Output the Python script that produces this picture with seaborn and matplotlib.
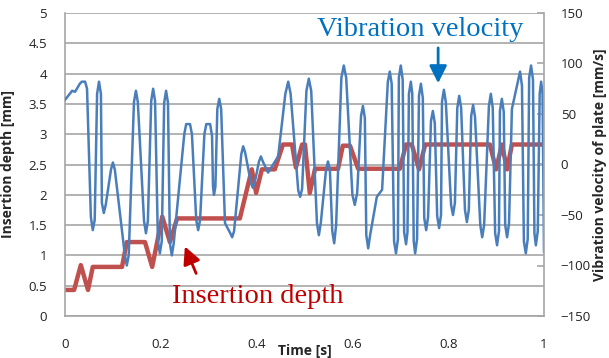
import numpy as np
import pandas as pd
import seaborn as sns
import matplotlib.pyplot as plt

# vibration velocity of plate [mm/s] (right axis) as (time, value)
vel_points = [
    (0.000, 64), (0.015, 73), (0.021, 72), (0.031, 80), (0.035, 82), (0.042, 82),
    (0.046, 75), (0.054, -52), (0.058, -65), (0.062, -55), (0.067, 70), (0.071, 82),
    (0.075, 70), (0.077, -38), (0.081, -48), (0.085, -40), (0.096, -5), (0.100, 2),
    (0.104, -5), (0.125, -90), (0.129, -100), (0.133, -90), (0.144, 62), (0.148, 73),
    (0.152, 62), (0.165, -56), (0.169, -68), (0.173, -56), (0.180, 63), (0.184, 75),
    (0.188, 63), (0.194, -76), (0.198, -88), (0.202, -76), (0.207, 61), (0.211, 73),
    (0.215, 61), (0.219, -78), (0.223, -90), (0.227, -78), (0.249, 30), (0.253, 40),
    (0.261, 40), (0.265, 30), (0.274, -55), (0.278, -65), (0.282, -55), (0.291, 30),
    (0.295, 40), (0.303, 40), (0.307, 28), (0.309, -22), (0.311, -30), (0.314, -22),
    (0.318, 55), (0.322, 65), (0.326, 55), (0.334, -58), (0.345, -68), (0.349, -72),
    (0.353, -66), (0.368, 10), (0.372, 18), (0.376, 12), (0.388, -18), (0.392, -23),
    (0.396, -18), (0.405, 3), (0.409, 8), (0.413, 3), (0.424, -8), (0.445, 8),
    (0.460, 70), (0.466, 82), (0.471, 70), (0.487, -26), (0.491, -32), (0.495, -24),
    (0.504, 73), (0.509, 85), (0.514, 73), (0.526, -58), (0.530, -70), (0.534, -58),
    (0.545, -5), (0.549, 3), (0.553, -5), (0.558, -66), (0.562, -78), (0.566, -60),
    (0.577, 86), (0.582, 98), (0.587, 86), (0.600, -30), (0.605, -40), (0.610, -28),
    (0.618, 48), (0.622, 58), (0.626, 46), (0.629, -70), (0.633, -83), (0.637, -70),
    (0.651, -32), (0.662, -25), (0.674, 82), (0.678, 92), (0.682, 80), (0.687, -76),
    (0.691, -88), (0.695, -74), (0.697, 86), (0.701, 98), (0.705, 84), (0.708, -67),
    (0.712, -79), (0.715, -67), (0.718, 70), (0.722, 82), (0.725, 70), (0.728, -76),
    (0.731, -88), (0.735, -74), (0.739, 68), (0.743, 80), (0.747, 66), (0.750, -53),
    (0.754, -65), (0.758, -52), (0.764, 43), (0.768, 53), (0.772, 41), (0.777, -51),
    (0.781, -63), (0.785, -50), (0.787, 62), (0.791, 74), (0.795, 62), (0.806, -40),
    (0.810, -50), (0.814, -38), (0.819, 56), (0.823, 68), (0.827, 56), (0.835, -45),
    (0.839, -57), (0.843, -45), (0.848, 48), (0.852, 59), (0.856, 47), (0.867, -60),
    (0.871, -72), (0.875, -60), (0.885, 58), (0.889, 70), (0.893, 56), (0.898, -68),
    (0.902, -80), (0.906, -66), (0.908, 53), (0.912, 65), (0.916, 52), (0.919, -60),
    (0.923, -72), (0.927, -58), (0.933, 55), (0.950, 92), (0.954, 78), (0.958, -76),
    (0.962, -88), (0.966, -74), (0.969, 86), (0.973, 98), (0.977, 84), (0.980, -68),
    (0.983, -80), (0.987, -66), (0.991, 70), (0.994, 82), (0.997, 70), (1.000, -87),
]
vel_time = [p[0] for p in vel_points]
vel_value = [p[1] for p in vel_points]

# insertion depth [mm] (left axis)
depth_time = [0.000, 0.019, 0.033, 0.048, 0.058, 0.119, 0.129, 0.167, 0.182, 0.203,
              0.219, 0.234, 0.365, 0.390, 0.399, 0.411, 0.438, 0.455, 0.474, 0.482,
              0.495, 0.501, 0.511, 0.522, 0.570, 0.580, 0.595, 0.612, 0.699, 0.712,
              0.724, 0.739, 0.752, 0.887, 0.900, 0.912, 0.923, 0.933, 1.000]
depth_value = [0.43, 0.43, 0.84, 0.43, 0.81, 0.81, 1.22, 1.22, 0.81, 1.64,
               1.22, 1.61, 1.61, 2.42, 2.03, 2.42, 2.42, 2.83, 2.83, 2.45,
               2.83, 2.83, 2.03, 2.43, 2.43, 2.81, 2.81, 2.43, 2.43, 2.83,
               2.83, 2.42, 2.83, 2.83, 2.42, 2.83, 2.42, 2.83, 2.83]

x_ticks = [0, 0.2, 0.4, 0.6, 0.8, 1]
depth_ticks = [0, 0.5, 1, 1.5, 2, 2.5, 3, 3.5, 4, 4.5, 5]
vel_ticks = [-150, -100, -50, 0, 50, 100, 150]

sns.set_style("white")
plt.rcParams['font.family'] = ['Open Sans', 'DejaVu Sans']

grid_c = '#A6A6A6'
fig = plt.figure(figsize=(6.09, 3.58), dpi=100)
ax = fig.add_axes([65 / 609, 42 / 358, 479 / 609, 303 / 358])

sns.lineplot(x=depth_time, y=depth_value, ax=ax, color='#C0504D', lw=3.2,
             sort=False, estimator=None, solid_joinstyle='round')
ax.set_xlim(0, 1)
ax.set_ylim(0, 5)
ax.set_yticks(depth_ticks)
ax.set_yticklabels([f'{v:g}' for v in depth_ticks])
ax.set_xticks(x_ticks)
ax.set_xticklabels([f'{v:g}' for v in x_ticks])
ax.grid(axis='y', color=grid_c, lw=1.2)
ax.set_axisbelow(True)
for s in ['top', 'right']:
    ax.spines[s].set_visible(False)
for s in ['left', 'bottom']:
    ax.spines[s].set_color(grid_c)
    ax.spines[s].set_linewidth(1.2)
ax.tick_params(axis='x', direction='in', length=5, color=grid_c, width=1.2,
               pad=15.5, labelsize=9.5, labelcolor='#222222')
ax.tick_params(axis='y', length=0, pad=13, labelsize=9.5, labelcolor='#222222')
ax.set_xlabel('Time [s]', fontweight='bold', fontsize=10)
ax.xaxis.set_label_coords(0.501, -0.092)
ax.set_ylabel('Insertion depth [mm]', fontweight='bold', fontsize=10)
ax.yaxis.set_label_coords(-0.104, 0.5)

ax2 = ax.twinx()
sns.lineplot(x=vel_time, y=vel_value, ax=ax2, color='#4A7EBB', lw=1.8,
             sort=False, estimator=None, solid_joinstyle='round')
ax2.set_ylim(-150, 150)
ax2.set_yticks(vel_ticks)
for s in ['top', 'left', 'bottom']:
    ax2.spines[s].set_visible(False)
ax2.spines['right'].set_color(grid_c)
ax2.spines['right'].set_linewidth(1.2)
ax2.tick_params(axis='y', direction='in', length=5, color=grid_c, width=1.2,
                pad=12, labelsize=9.5, labelcolor='#222222')
ax2.set_ylabel('Vibration velocity of plate [mm/s]', fontweight='bold', fontsize=10)
ax2.yaxis.set_label_coords(1.102, 0.5)

ax.text(0.741, 0.944, 'Vibration velocity', transform=ax.transAxes,
        family='Liberation Serif', fontsize=20.5, color='#0070C0',
        ha='center', va='center')
ax.annotate('', xy=(0.779, 0.759), xytext=(0.779, 0.894), xycoords='axes fraction',
            arrowprops=dict(arrowstyle='-|>,head_length=0.7,head_width=0.35',
                            mutation_scale=15, color='#0070C0', lw=2))
ax.text(0.403, 0.063, 'Insertion depth', transform=ax.transAxes,
        family='Liberation Serif', fontsize=20.5, color='#C00000',
        ha='center', va='center')
ax.annotate('', xy=(0.248, 0.238), xytext=(0.276, 0.132), xycoords='axes fraction',
            arrowprops=dict(arrowstyle='-|>,head_length=0.7,head_width=0.35',
                            mutation_scale=15, color='#C00000', lw=2))

fig.savefig('out.png', dpi=100)
